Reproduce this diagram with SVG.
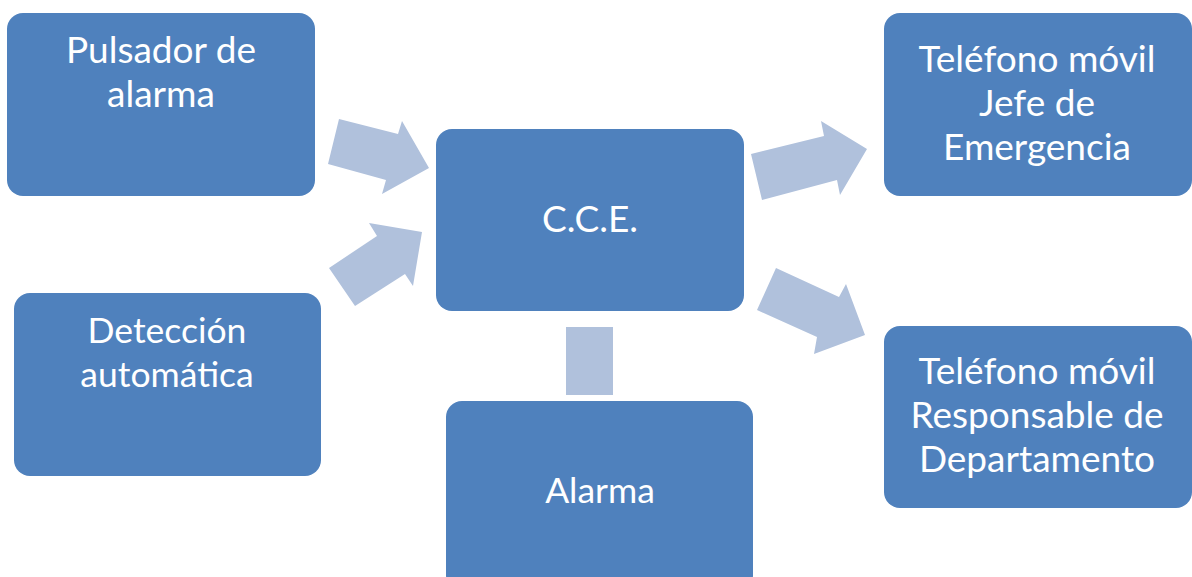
<svg xmlns="http://www.w3.org/2000/svg" width="1192" height="577" viewBox="0 0 1192 577">
<style>
.box{fill:#4F81BD;}
.arr{fill:#B0C1DC;}
text{font-family:Lato,"Liberation Sans",sans-serif;font-size:37px;fill:#FFFFFF;text-anchor:middle;}
.n{font-size:35.5px;}
</style>
<rect width="1192" height="577" fill="#FFFFFF"/>
<g id="connectors">
<polygon class="arr" points="339,119 398,134 402,121 429,168 382,194 386,180 328,164"/>
<polygon class="arr" points="329,268 377,236 369,223 422,232 413,286 405,274 355,306"/>
<polygon class="arr" points="751,154 824,136 821,121 867,149 840,195 837,180 762,200"/>
<polygon class="arr" points="776,268 839,297 846,284 865,335 814,354 817,337 757,310"/>
<rect class="arr" x="566" y="327" width="47" height="68"/>
</g>
<g id="pulsador">
<rect class="box" x="7" y="13" width="308" height="183" rx="16"/>
<text x="161" y="63">Pulsador de</text>
<text x="161" y="107">alarma</text>
</g>
<g id="deteccion">
<rect class="box" x="14" y="293" width="307" height="183" rx="16"/>
<text class="n" x="167" y="343">Detección</text>
<text class="n" x="167" y="387">automática</text>
</g>
<g id="cce">
<rect class="box" x="436" y="129" width="308" height="182" rx="16"/>
<text x="590" y="232">C.C.E.</text>
</g>
<g id="alarma">
<rect class="box" x="446" y="401" width="307" height="190" rx="16"/>
<text class="n" x="600" y="503">Alarma</text>
</g>
<g id="tel-jefe">
<rect class="box" x="884" y="13" width="308" height="183" rx="16"/>
<text x="1037" y="72">Teléfono móvil</text>
<text x="1037" y="116">Jefe de</text>
<text x="1037" y="160">Emergencia</text>
</g>
<g id="tel-responsable">
<rect class="box" x="884" y="326" width="308" height="182" rx="16"/>
<text x="1037" y="384">Teléfono móvil</text>
<text x="1037" y="428">Responsable de</text>
<text x="1037" y="472">Departamento</text>
</g>
</svg>
